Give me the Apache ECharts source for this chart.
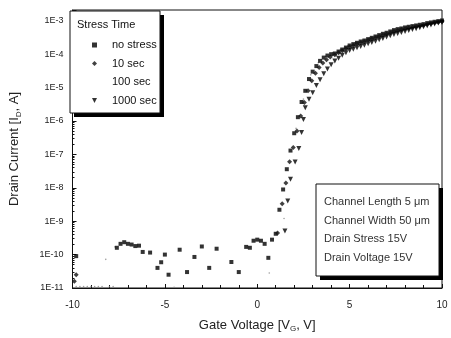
<!DOCTYPE html>
<html><head><meta charset="utf-8">
<script src="https://cdn.jsdelivr.net/npm/echarts@6/dist/echarts.min.js"></script>
<style>html,body{margin:0;padding:0;background:#fff}#c{width:451px;height:338px}</style>
</head><body><div id="c"></div>
<script>
const xTicks = [-10, -5, 0, 5, 10];
const seriesNames = ['no stress', '10 sec', '100 sec', '1000 sec'];
const noStress = [
[-9.8,9e-11],[-7.6,1.6e-10],[-7.4,2.1e-10],[-7.2,2.35e-10],[-7.0,2.1e-10],[-6.8,2.0e-10],[-6.6,1.8e-10],[-6.4,1.85e-10],
[-6.2,1.2e-10],[-5.8,1.15e-10],[-5.4,4.0e-11],[-5.2,5.9e-11],[-5.0,1.0e-10],[-4.8,2.5e-11],[-4.2,1.4e-10],[-3.8,3.0e-11],
[-3.4,8.5e-11],[-3.0,1.75e-10],[-2.6,4.0e-11],[-2.2,1.5e-10],[-1.4,6.0e-11],[-1.0,3.0e-11],[-0.6,1.7e-10],[-0.4,1.6e-10],
[-0.2,2.6e-10],[0.0,2.8e-10],[0.2,2.6e-10],[0.4,2.1e-10],[0.6,8e-11],[0.8,2.8e-10],[1.0,4.2e-10],[1.2,2.2e-9],[1.4,8.9e-9],
[1.6,3.6e-8],[1.8,1.3e-7],[2.0,4.3e-7],[2.2,1.3e-6],[2.4,3.7e-6],[2.6,8.0e-6],[2.8,1.8e-5],[3.0,3.0e-5],[3.2,4.4e-5],
[3.4,6.3e-5],[3.6,7.9e-5],[3.8,9.1e-5],[4.0,1.0e-4],[4.2,1.05e-4],[4.4,1.2e-4],[4.6,1.38e-4],[4.8,1.58e-4],[5.0,1.82e-4],
[5.2,2.0e-4],[5.4,2.19e-4],[5.6,2.4e-4],[5.8,2.57e-4],[6.0,2.82e-4],[6.2,3.09e-4],[6.4,3.39e-4],[6.6,3.72e-4],[6.8,4.07e-4],
[7.0,4.37e-4],[7.2,4.79e-4],[7.4,5.25e-4],[7.6,5.62e-4],[7.8,5.89e-4],[8.0,6.31e-4],[8.2,6.61e-4],[8.4,6.92e-4],[8.6,7.24e-4],
[8.8,7.59e-4],[9.0,7.94e-4],[9.2,8.51e-4],[9.4,8.91e-4],[9.6,9.33e-4],[9.8,9.77e-4],[10.0,1.02e-3]
];
const sec10 = [
[-9.8,2.5e-11],[-9.9,1.6e-11],[1.1,4.4e-10],[1.35,3.3e-9],[1.55,1.4e-8],[1.75,6.0e-8],[1.95,1.6e-7],[2.15,5.0e-7],[2.35,1.4e-6],
[2.55,3.6e-6],[2.75,8.0e-6],[2.95,1.6e-5],[3.15,2.7e-5],[3.35,4.0e-5],[3.55,5.4e-5],[3.75,6.8e-5],[3.95,8.2e-5],[4.2,9.6e-5],
[4.4,1.1e-4],[4.6,1.27e-4],[4.8,1.45e-4],[5.0,1.65e-4],[5.2,1.82e-4],[5.4,2.0e-4],[5.6,2.2e-4],[5.8,2.36e-4],[6.0,2.6e-4],
[6.2,2.85e-4],[6.4,3.1e-4],[6.6,3.4e-4],[6.8,3.7e-4],[7.0,4.0e-4],[7.2,4.4e-4],[7.4,4.8e-4],[7.6,5.15e-4],[7.8,5.45e-4],
[8.0,5.8e-4],[8.2,6.1e-4],[8.4,6.4e-4],[8.6,6.7e-4],[8.8,7.0e-4],[9.0,7.35e-4],[9.2,7.85e-4],[9.4,8.25e-4],[9.6,8.65e-4],
[9.8,9.05e-4],[10.0,9.5e-4]
];
const sec100 = [
[-9.8,1.1e-11],[-9.6,1.1e-11],[-9.4,1.1e-11],[-9.2,1.1e-11],[-9.0,1.1e-11],[-8.8,1.1e-11],[-8.6,1.1e-11],[-8.4,1.1e-11],
[-8.2,7.2e-11],[-8.0,1.1e-11],[-7.8,1.1e-11],[-7.7,1.7e-10],[-4.5,1.05e-11],[0.65,2.8e-11],[1.45,1.2e-9],[2.1,6e-7],
[2.5,4.5e-6],[2.9,2.4e-5],[3.3,5.5e-5],[3.7,8.6e-5],[4.1,1.1e-4],[4.5,1.4e-4],[4.9,1.8e-4],[5.3,2.2e-4],[5.7,2.6e-4],
[6.1,3.05e-4],[6.5,3.6e-4],[6.9,4.25e-4],[7.3,5.0e-4],[7.7,5.8e-4],[8.1,6.5e-4],[8.5,7.2e-4],[8.9,7.9e-4],[9.3,8.8e-4],[9.7,9.7e-4]
];
const sec1000 = [
[1.5,5.1e-10],[1.65,4.0e-9],[1.8,1.8e-8],[2.05,5.9e-8],[2.25,1.5e-7],[2.4,4.5e-7],[2.5,1.1e-6],[2.6,2.5e-6],[2.8,4.5e-6],
[3.0,7.0e-6],[3.2,1.15e-5],[3.4,1.7e-5],[3.6,2.6e-5],[3.8,3.6e-5],[4.0,4.8e-5],[4.2,6.2e-5],[4.4,7.6e-5],[4.6,9.3e-5],
[4.8,1.1e-4],[5.0,1.29e-4],[5.2,1.41e-4],[5.4,1.55e-4],[5.6,1.7e-4],[5.8,1.86e-4],[6.0,2.04e-4],[6.2,2.24e-4],[6.4,2.45e-4],
[6.6,2.69e-4],[6.8,2.95e-4],[7.0,3.24e-4],[7.2,3.55e-4],[7.4,3.89e-4],[7.6,4.17e-4],[7.8,4.47e-4],[8.0,4.79e-4],[8.2,5.13e-4],
[8.4,5.5e-4],[8.6,5.75e-4],[8.8,6.17e-4],[9.0,6.61e-4],[9.2,7.08e-4],[9.4,7.41e-4],[9.6,7.94e-4],[9.8,8.51e-4],[10.0,8.91e-4]
];
const infoLines = ['Channel Length 5 \u03bcm', 'Channel Width 50 \u03bcm', 'Drain Stress 15V', 'Drain Voltage 15V'];
const legendTitle = 'Stress Time';

const chart = echarts.init(document.getElementById('c'), null, {renderer: 'canvas'});
const FONT = 'Liberation Sans, Arial, sans-serif';
const axisCol = '#111';
const triDown = 'path://M0,0 L10,0 L5,10 Z';
chart.setOption({
  animation: false,
  backgroundColor: '#fff',
  grid: {left: 70, right: 9, top: 10, bottom: 50, show: true, borderColor: axisCol, borderWidth: 1, backgroundColor: 'transparent'},
  xAxis: {
    type: 'value', min: xTicks[0], max: xTicks[xTicks.length - 1], interval: 5,
    name: 'Gate Voltage [V{sub|G}, V]', nameLocation: 'middle', nameGap: 29,
    nameTextStyle: {fontFamily: FONT, fontSize: 13, color: '#222', rich: {sub: {fontSize: 8, fontFamily: FONT, color: '#222', verticalAlign: 'bottom', padding: [8, 0, 0, 0]}}},
    axisLine: {onZero: false, lineStyle: {color: axisCol, width: 1}},
    axisTick: {inside: true, length: 4, lineStyle: {color: axisCol}},
    minorTick: {show: true, splitNumber: 5, length: 3, lineStyle: {color: axisCol}},
    splitLine: {show: false},
    axisLabel: {fontFamily: FONT, fontSize: 10, color: '#222', margin: 12}
  },
  yAxis: {
    type: 'log', logBase: 10, min: 1e-11, max: 2.1e-3,
    name: 'Drain Current [I{sub|D}, A]', nameLocation: 'middle', nameGap: 50,
    nameTextStyle: {fontFamily: FONT, fontSize: 13, color: '#222', rich: {sub: {fontSize: 8, fontFamily: FONT, color: '#222', verticalAlign: 'bottom', padding: [8, 0, 0, 0]}}},
    axisLine: {show: true, onZero: false, lineStyle: {color: axisCol, width: 1}},
    axisTick: {inside: true, length: 4, lineStyle: {color: axisCol}},
    minorTick: {show: true, splitNumber: 9, length: 2, lineStyle: {color: axisCol}},
    splitLine: {show: false},
    axisLabel: {fontFamily: FONT, fontSize: 9, color: '#222', margin: 9, showMaxLabel: false,
      formatter: function (v) { const l = Math.log10(v); const e = Math.round(l); if (Math.abs(l - e) > 1e-6) return ''; return '1E' + e; }}
  },
  legend: {
    show: true, orient: 'vertical', left: 87, top: 33, itemWidth: 5, itemHeight: 5, itemGap: 4.5,
    textStyle: {fontFamily: FONT, fontSize: 11, color: '#111', lineHeight: 14, padding: [0, 0, 0, 10]},
    data: [
      {name: seriesNames[0], icon: 'rect'},
      {name: seriesNames[1], icon: 'diamond'},
      {name: seriesNames[2], icon: 'none'},
      {name: seriesNames[3], icon: triDown}
    ],
    selectedMode: false, z: 10
  },
  graphic: [
    {type: 'rect', z: 5, shape: {x: 74, y: 15, width: 90, height: 102}, style: {fill: '#000'}},
    {type: 'rect', z: 6, shape: {x: 70, y: 11, width: 90, height: 102}, style: {fill: '#fff', stroke: '#111', lineWidth: 1}},
    {type: 'text', z: 7, x: 77, y: 19, style: {text: legendTitle, fontFamily: FONT, fontSize: 11, fill: '#111'}},
    {type: 'rect', z: 5, shape: {x: 320, y: 188, width: 123, height: 92}, style: {fill: '#000'}},
    {type: 'rect', z: 6, shape: {x: 316, y: 184, width: 123, height: 92}, style: {fill: '#fff', stroke: '#111', lineWidth: 1}},
    {type: 'text', z: 7, x: 324, y: 196, style: {text: infoLines[0], fontFamily: FONT, fontSize: 11, fill: '#333'}},
    {type: 'text', z: 7, x: 324, y: 215, style: {text: infoLines[1], fontFamily: FONT, fontSize: 11, fill: '#333'}},
    {type: 'text', z: 7, x: 324, y: 233, style: {text: infoLines[2], fontFamily: FONT, fontSize: 11, fill: '#333'}},
    {type: 'text', z: 7, x: 324, y: 252, style: {text: infoLines[3], fontFamily: FONT, fontSize: 11, fill: '#333'}}
  ],
  series: [
    {name: seriesNames[0], type: 'scatter', data: noStress, symbol: 'rect', symbolSize: 4, itemStyle: {color: '#000'}, z: 3},
    {name: seriesNames[1], type: 'scatter', data: sec10, symbol: 'diamond', symbolSize: 5, itemStyle: {color: '#111'}, z: 3},
    {name: seriesNames[2], type: 'scatter', data: sec100, symbol: 'circle', symbolSize: 1.6, itemStyle: {color: '#888'}, z: 2},
    {name: seriesNames[3], type: 'scatter', data: sec1000, symbol: 'triangle', symbolRotate: 180, symbolSize: 5, itemStyle: {color: '#000'}, z: 3}
  ]
});
</script></body></html>
